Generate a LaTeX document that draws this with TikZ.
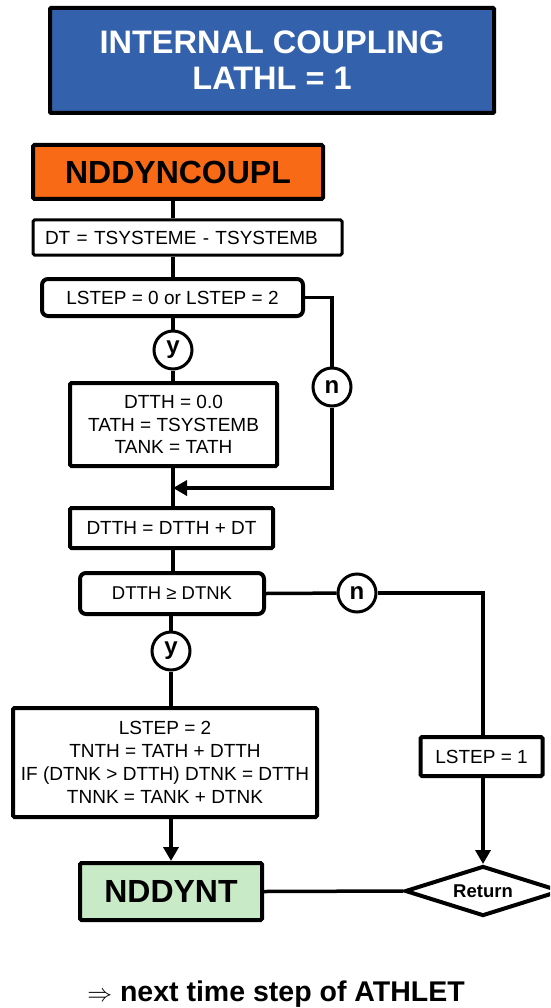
\documentclass[tikz,border=0pt]{standalone}
\usepackage{fontspec}
\setmainfont{Liberation Sans}
\usetikzlibrary{arrows.meta,shapes.geometric}
\definecolor{titleblue}{HTML}{3461AB}
\definecolor{orng}{HTML}{F96A16}
\definecolor{lgreen}{HTML}{C9EAC7}
\tikzset{
  box/.style={draw,line width=4pt,rounded corners=1.5pt,fill=white,inner sep=0pt,align=center,font=\fontsize{19}{23}\selectfont},
  thinbox/.style={box,line width=3pt},
  decbox/.style={box,rounded corners=6pt},
  yn/.style={draw,circle,line width=3pt,fill=white,minimum size=38pt,inner sep=0pt,font=\bfseries\fontsize{24}{24}\selectfont},
  conn/.style={line width=3.5pt},
  arr/.style={conn,-{Triangle[width=15pt,length=14pt]}},
}
\begin{document}
\begin{tikzpicture}[x=1pt,y=-1pt]
\useasboundingbox (0,0) rectangle (550,1008);
\clip (0,0) rectangle (550,1008);
% title
\node[draw,line width=4pt,rounded corners=1pt,fill=titleblue,text=white,minimum width=444pt,minimum height=105pt,inner sep=0pt,align=center,font=\bfseries\fontsize{32.5}{36}\selectfont] (title) at (272,60.5) {INTERNAL COUPLING\\LATHL = 1};
% nodes
\node[box,fill=orng,minimum width=290pt,minimum height=54pt,font=\bfseries\fontsize{32}{32}\selectfont] (ndc) at (178,172) {NDDYNCOUPL};
\node[thinbox,minimum width=309pt,minimum height=35pt,text width=285pt,align=left] (dt) at (187.5,237.5) {DT = TSYSTEME - TSYSTEMB};
\node[decbox,minimum width=261pt,minimum height=37pt] (ls) at (172.5,297.5) {LSTEP = 0 or LSTEP = 2};
\node[yn] (y1) at (173,350) {y};
\node[yn] (n1) at (332,387) {n};
\node[box,minimum width=207pt,minimum height=83pt,font=\fontsize{19}{22.5}\selectfont] (dtth0) at (173.5,424.5) {DTTH = 0.0\\TATH = TSYSTEMB\\TANK = TATH};
\coordinate (join) at (173,488);
\node[box,minimum width=203pt,minimum height=40pt] (dtthdt) at (171.5,528) {DTTH = DTTH + DT};
\node[decbox,minimum width=184pt,minimum height=41pt,font=\fontsize{18.5}{18.5}\selectfont] (dec) at (172,593.5) {DTTH ≥ DTNK};
\node[yn] (n2) at (357,593) {n};
\node[yn] (y2) at (171,651) {y};
\node[box,minimum width=304pt,minimum height=109pt] (big) at (165,762.5) {LSTEP = 2\\TNTH = TATH + DTTH\\IF (DTNK > DTTH) DTNK = DTTH\\TNNK = TANK + DTNK};
\node[box,minimum width=122pt,minimum height=39pt] (ls1) at (481.5,756.5) {LSTEP = 1};
\node[draw,diamond,line width=4pt,fill=white,minimum width=156pt,minimum height=50pt,inner sep=0pt,aspect=3.1,font=\bfseries\fontsize{18.5}{18.5}\selectfont] (ret) at (483,891) {Return};
\node[box,fill=lgreen,minimum width=182pt,minimum height=57pt,font=\bfseries\fontsize{32}{32}\selectfont] (nt) at (171,891.5) {NDDYNT};
\node[font=\bfseries\fontsize{28.5}{28.5}\selectfont] (next) at (276,994) {$\Rightarrow$ next time step of ATHLET};
% connectors
\coordinate (ax) at (173,0);
\draw[conn] (ndc.south -| ax) -- (dt.north -| ax);
\draw[conn] (dt.south -| ax) -- (ls.north -| ax);
\draw[conn] (ls.south -| ax) -- (y1);
\draw[conn] (y1) -- (dtth0.north -| ax);
\draw[conn] (dtth0.south -| ax) -- (dtthdt.north -| ax);
\draw[conn] (ls.east) -| (n1);
\draw[arr] (n1) |- (join);
\draw[conn] (dtthdt.south -| ax) -- (dec.north -| ax);
\draw[conn] (dec.south -| y2) -- (y2);
\draw[conn] (y2) -- (big.north -| y2);
\draw[arr] (big.south -| y2) -- (nt.north -| y2);
\draw[conn] (dec.east) -- (n2);
\draw[conn] (n2) -| (ls1.north -| ret);
\draw[arr] (ls1.south -| ret) -- (ret.north);
\draw[conn] (nt.east) -- (ret.west);
\end{tikzpicture}
\end{document}
